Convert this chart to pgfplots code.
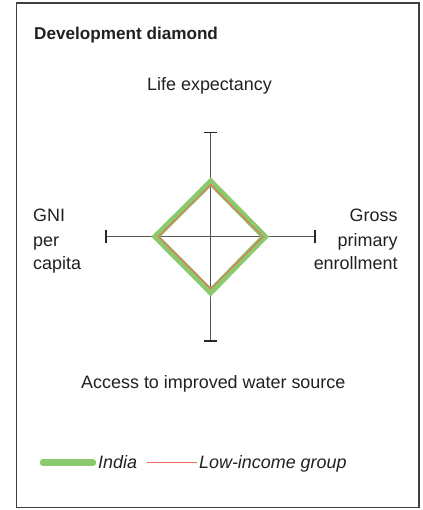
\documentclass[border=0pt]{standalone}
\usepackage{fontspec}
\setmainfont{Liberation Sans}
\usepackage{pgfplots}
\pgfplotsset{compat=1.18}
\definecolor{indiagreen}{HTML}{8ACA6C}
\definecolor{lowred}{HTML}{EE6A5C}
\definecolor{axgray}{HTML}{555555}
\definecolor{txt}{HTML}{231F20}
\begin{document}
\begin{tikzpicture}[x=1bp,y=1bp,font=\fontsize{18}{20}\selectfont,text=txt]
\useasboundingbox (0,0) rectangle (422,510);
\draw[color=black!75,line width=1.5bp] (16.5,2.5) rectangle (419,507);
\node[anchor=base west,inner sep=0pt,font=\fontsize{17.2}{20}\selectfont\bfseries] at (34,470) {Development diamond};
\node[anchor=base,inner sep=0pt] at (209.5,419.3) {Life expectancy};
\node[anchor=base west,inner sep=0pt] at (33,288.3) {GNI};
\node[anchor=base west,inner sep=0pt] at (33,263.3) {per};
\node[anchor=base west,inner sep=0pt] at (33,240) {capita};
\node[anchor=base east,inner sep=0pt] at (397.7,288.3) {Gross};
\node[anchor=base east,inner sep=0pt] at (397.7,263.3) {primary};
\node[anchor=base east,inner sep=0pt] at (397.7,240) {enrollment};
\node[anchor=base,inner sep=0pt] at (213.3,121) {Access to improved water source};
\begin{axis}[
  at={(210.7bp,273.3bp)}, anchor=center,
  scale only axis, width=209bp, height=208.3bp,
  xmin=-2, xmax=2, ymin=-2, ymax=2,
  hide axis, clip=false,
  legend style={at={(axis description cs:-0.318,-0.585)}, anchor=west,
    draw=none, fill=none, inner sep=0pt, outer sep=0pt,
    legend columns=-1, font=\fontsize{18}{20}\selectfont\itshape,
    /tikz/every even column/.append style={column sep=7bp}},
  legend cell align=left,
  legend image code/.code={\draw[#1] (0bp,0bp) -- (50bp,0bp);},
]
% axes
\addplot[axgray, line width=1.2bp, forget plot] coordinates {(-2,0) (2,0)};
\addplot[axgray, line width=1.2bp, forget plot] coordinates {(0,-2) (0,2)};
\addplot[black!85, line width=1.8bp, forget plot] coordinates {(-2,-0.128) (-2,0.128)};
\addplot[black!85, line width=1.8bp, forget plot] coordinates {(2,-0.128) (2,0.128)};
\addplot[black!85, line width=1.8bp, forget plot] coordinates {(-0.128,2) (0.128,2)};
\addplot[black!85, line width=1.8bp, forget plot] coordinates {(-0.128,-2) (0.128,-2)};
% India
\addplot[indiagreen, line width=6.5bp, line join=miter, line cap=round] coordinates {(0,1.05) (1.03,0) (0,-1.06) (-1.05,0)} -- cycle;
\addlegendentry{India}
% Low-income group
\addplot[lowred, line width=1bp, line join=miter] coordinates {(0,1) (1,0) (0,-1) (-1,0)} -- cycle;
\addlegendentry{Low-income group}
\end{axis}
\end{tikzpicture}
\end{document}
